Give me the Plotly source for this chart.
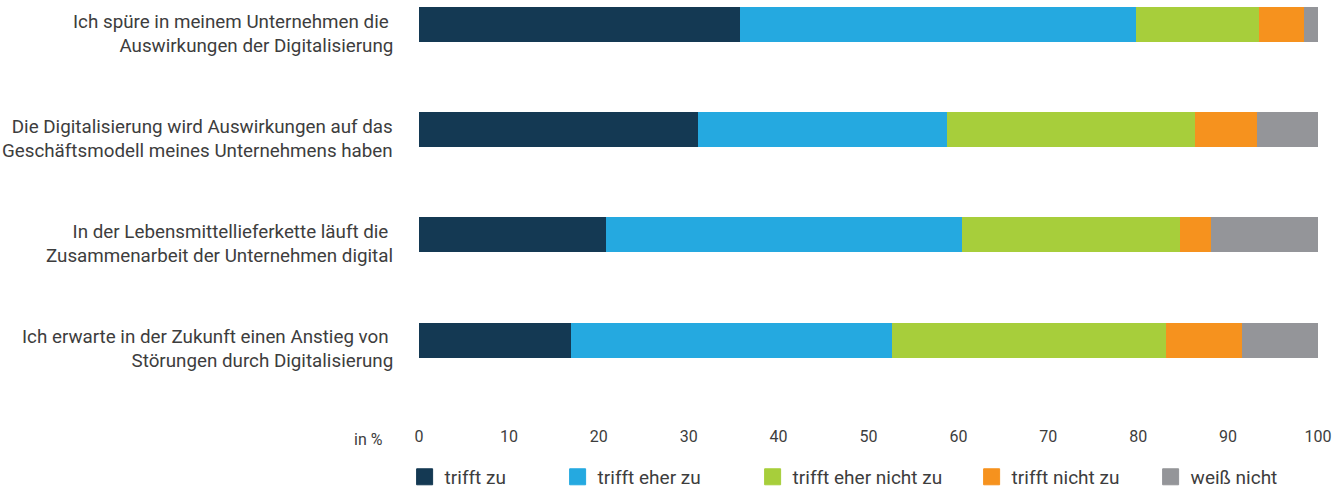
import plotly.graph_objects as go

categories = [
    "Ich spüre in meinem Unternehmen die\u00a0<br>Auswirkungen der Digitalisierung",
    "Die Digitalisierung wird Auswirkungen auf das<br>Geschäftsmodell meines Unternehmens haben",
    "In der Lebensmittellieferkette läuft die\u00a0<br>Zusammenarbeit der Unternehmen digital",
    "Ich erwarte in der Zukunft einen Anstieg von\u00a0<br>Störungen durch Digitalisierung",
]
series_names = ["trifft zu", "trifft eher zu", "trifft eher nicht zu", "trifft nicht zu", "weiß nicht"]
trifft_zu = [35.7, 31.0, 20.8, 16.9]
trifft_eher_zu = [44.1, 27.7, 39.6, 35.7]
trifft_eher_nicht_zu = [13.6, 27.6, 24.2, 30.5]
trifft_nicht_zu = [5.0, 6.9, 3.5, 8.4]
weiss_nicht = [1.6, 6.8, 11.9, 8.5]
x_ticks = [0, 10, 20, 30, 40, 50, 60, 70, 80, 90, 100]

series_values = [trifft_zu, trifft_eher_zu, trifft_eher_nicht_zu, trifft_nicht_zu, weiss_nicht]
colors = ["#143953", "#25A9E0", "#A7CE3B", "#F6921E", "#949599"]
legend_widths = [108, 150, 174, 134, 90]

FONT = "Roboto, DejaVu Sans Condensed, Liberation Sans, sans-serif"
TXT = "#3d3d3d"

ypos = list(range(len(categories)))

fig = go.Figure()
for name, vals, col in zip(series_names, series_values, colors):
    fig.add_trace(go.Bar(
        x=vals, y=ypos, orientation="h", name=name,
        marker=dict(color=col, line=dict(width=0)),
        width=0.333, showlegend=False, hoverinfo="x+name",
    ))
for name, col, lw in zip(series_names, colors, legend_widths):
    fig.add_trace(go.Scatter(
        x=[None], y=[None], mode="markers", name=name,
        marker=dict(symbol="square", size=16, color=col, line=dict(width=1, color=col)),
        legendwidth=lw,
    ))

for i, cat in enumerate(categories):
    fig.add_annotation(
        x=0, xref="paper", xanchor="right", xshift=-24,
        y=i, yref="y", yshift=-9, yanchor="middle",
        text=cat, align="right", showarrow=False,
        font=dict(family=FONT, size=18.8, color=TXT),
    )

fig.add_annotation(
    x=0, xref="paper", xanchor="right", xshift=-34,
    y=0, yref="paper", yanchor="top", yshift=-3,
    text="in %", showarrow=False,
    font=dict(family=FONT, size=16, color=TXT),
)

fig.update_layout(
    width=1333, height=488,
    margin=dict(l=419, r=15, t=0, b=63, autoexpand=False),
    barmode="stack",
    plot_bgcolor="white", paper_bgcolor="white",
    font=dict(family=FONT, color=TXT),
    xaxis=dict(range=[0, 100], tickvals=x_ticks, showgrid=False, zeroline=False,
               showline=False, ticks="", tickfont=dict(size=16, color=TXT)),
    yaxis=dict(range=[3.807, -0.233], showticklabels=False, showgrid=False,
               zeroline=False, showline=False, ticks=""),
    showlegend=True,
    legend=dict(orientation="h", x=-0.016, xanchor="left", y=-0.0775, yanchor="top",
                font=dict(family=FONT, size=19, color=TXT), traceorder="normal",
                bgcolor="rgba(0,0,0,0)", borderwidth=0),
)

fig.write_html("out.html")
